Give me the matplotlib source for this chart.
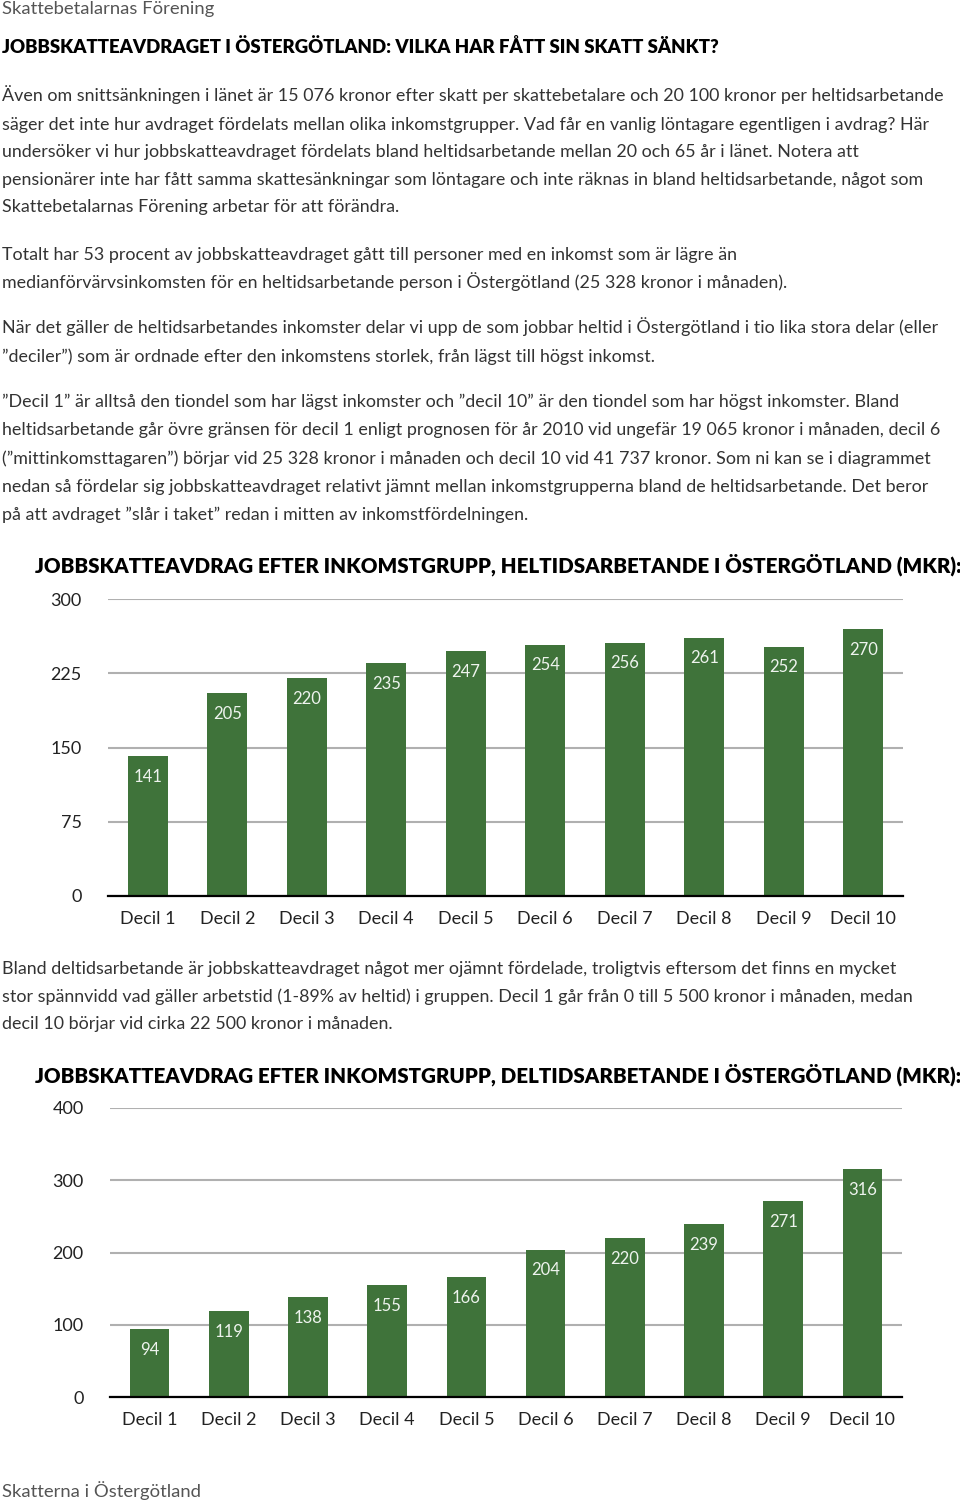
import matplotlib
matplotlib.use('Agg')
import matplotlib.pyplot as plt

# Data
deciler = ['Decil 1', 'Decil 2', 'Decil 3', 'Decil 4', 'Decil 5',
           'Decil 6', 'Decil 7', 'Decil 8', 'Decil 9', 'Decil 10']
heltid = [141, 205, 220, 235, 247, 254, 256, 261, 252, 270]
deltid = [94, 119, 138, 155, 166, 204, 220, 239, 271, 316]
heltid_ticks = [0, 75, 150, 225, 300]
deltid_ticks = [0, 100, 200, 300, 400]

rubrik = 'JOBBSKATTEAVDRAGET I ÖSTERGÖTLAND: VILKA HAR FÅTT SIN SKATT SÄNKT?'
titel1 = 'JOBBSKATTEAVDRAG EFTER INKOMSTGRUPP, HELTIDSARBETANDE I ÖSTERGÖTLAND (MKR):'
titel2 = 'JOBBSKATTEAVDRAG EFTER INKOMSTGRUPP, DELTIDSARBETANDE I ÖSTERGÖTLAND (MKR):'

# Brödtext, rad för rad med y-position i pixlar
brodtext = [
    (95, 'Även om snittsänkningen i länet är 15 076 kronor efter skatt per skattebetalare och 20 100 kronor per heltidsarbetande'),
    (125, 'säger det inte hur avdraget fördelats mellan olika inkomstgrupper. Vad får en vanlig löntagare egentligen i avdrag? Här'),
    (152, 'undersöker vi hur jobbskatteavdraget fördelats bland heltidsarbetande mellan 20 och 65 år i länet. Notera att'),
    (180, 'pensionärer inte har fått samma skattesänkningar som löntagare och inte räknas in bland heltidsarbetande, något som'),
    (207, 'Skattebetalarnas Förening arbetar för att förändra.'),
    (255, 'Totalt har 53 procent av jobbskatteavdraget gått till personer med en inkomst som är lägre än'),
    (282, 'medianförvärvsinkomsten för en heltidsarbetande person i Östergötland (25 328 kronor i månaden).'),
    (327, 'När det gäller de heltidsarbetandes inkomster delar vi upp de som jobbar heltid i Östergötland i tio lika stora delar (eller'),
    (357, '”deciler”) som är ordnade efter den inkomstens storlek, från lägst till högst inkomst.'),
    (402, '”Decil 1” är alltså den tiondel som har lägst inkomster och ”decil 10” är den tiondel som har högst inkomster. Bland'),
    (430, 'heltidsarbetande går övre gränsen för decil 1 enligt prognosen för år 2010 vid ungefär 19 065 kronor i månaden, decil 6'),
    (459, '(”mittinkomsttagaren”) börjar vid 25 328 kronor i månaden och decil 10 vid 41 737 kronor. Som ni kan se i diagrammet'),
    (487, 'nedan så fördelar sig jobbskatteavdraget relativt jämnt mellan inkomstgrupperna bland de heltidsarbetande. Det beror'),
    (515, 'på att avdraget ”slår i taket” redan i mitten av inkomstfördelningen.'),
    (969, 'Bland deltidsarbetande är jobbskatteavdraget något mer ojämnt fördelade, troligtvis eftersom det finns en mycket'),
    (997, 'stor spännvidd vad gäller arbetstid (1-89% av heltid) i gruppen. Decil 1 går från 0 till 5 500 kronor i månaden, medan'),
    (1024, 'decil 10 börjar vid cirka 22 500 kronor i månaden.'),
]

W, H = 960, 1504
gron = '#3f733a'
textfarg = '#333333'
typsnitt = ['Lato', 'DejaVu Sans']

fig = plt.figure(figsize=(W / 100, H / 100), dpi=100)
fig.patch.set_facecolor('white')


def ytext(y_px, s, x_px=2, **kw):
    fig.text(x_px / W, 1 - y_px / H, s, va='center', ha='left', family=typsnitt, **kw)


ytext(9, 'Skattebetalarnas Förening', fontsize=13.3, color='#555555')
ytext(47, rubrik, fontsize=13.4, fontweight='heavy', color='black')
for y, rad in brodtext:
    ytext(y, rad, fontsize=12.9, color=textfarg)
ytext(565, titel1, x_px=35, fontsize=14.8, fontweight='heavy', color='black')
ytext(1075, titel2, x_px=35, fontsize=14.8, fontweight='heavy', color='black')
ytext(1491, 'Skatterna i Östergötland', fontsize=13.3, color='#555555')


def stapeldiagram(rect, varden, ticks):
    ax = fig.add_axes(rect)
    x = range(len(varden))
    ax.bar(x, varden, width=0.5, color=gron, zorder=3)
    ax.set_xlim(-0.5, len(varden) - 0.5)
    ax.set_ylim(0, ticks[-1])
    ax.set_yticks(ticks)
    ax.set_xticks(list(x))
    ax.set_xticklabels(deciler)
    ax.yaxis.grid(True, color='#b0b0b0', linewidth=1.5, zorder=0)
    ax.set_axisbelow(True)
    for s in ['top', 'right', 'left']:
        ax.spines[s].set_visible(False)
    ax.spines['bottom'].set_linewidth(1.6)
    ax.spines['bottom'].set_color('black')
    ax.spines['bottom'].set_zorder(4)
    ax.tick_params(axis='y', length=0, pad=19, labelsize=13, labelcolor='#222222')
    ax.tick_params(axis='x', length=0, pad=11, labelsize=13, labelcolor='#222222')
    for lab in ax.get_xticklabels() + ax.get_yticklabels():
        lab.set_family(typsnitt)
    for xi, v in zip(x, varden):
        ax.annotate(str(v), (xi, v), xytext=(0, -15), textcoords='offset points',
                    ha='center', va='center', color='#eef3ee', fontsize=12,
                    family=typsnitt, zorder=5)
    return ax


stapeldiagram([108 / W, 1 - 896 / H, 795 / W, 297 / H], heltid, heltid_ticks)
stapeldiagram([110 / W, 1 - 1397 / H, 792 / W, 289 / H], deltid, deltid_ticks)

plt.savefig('out.png', dpi=100, facecolor='white')
